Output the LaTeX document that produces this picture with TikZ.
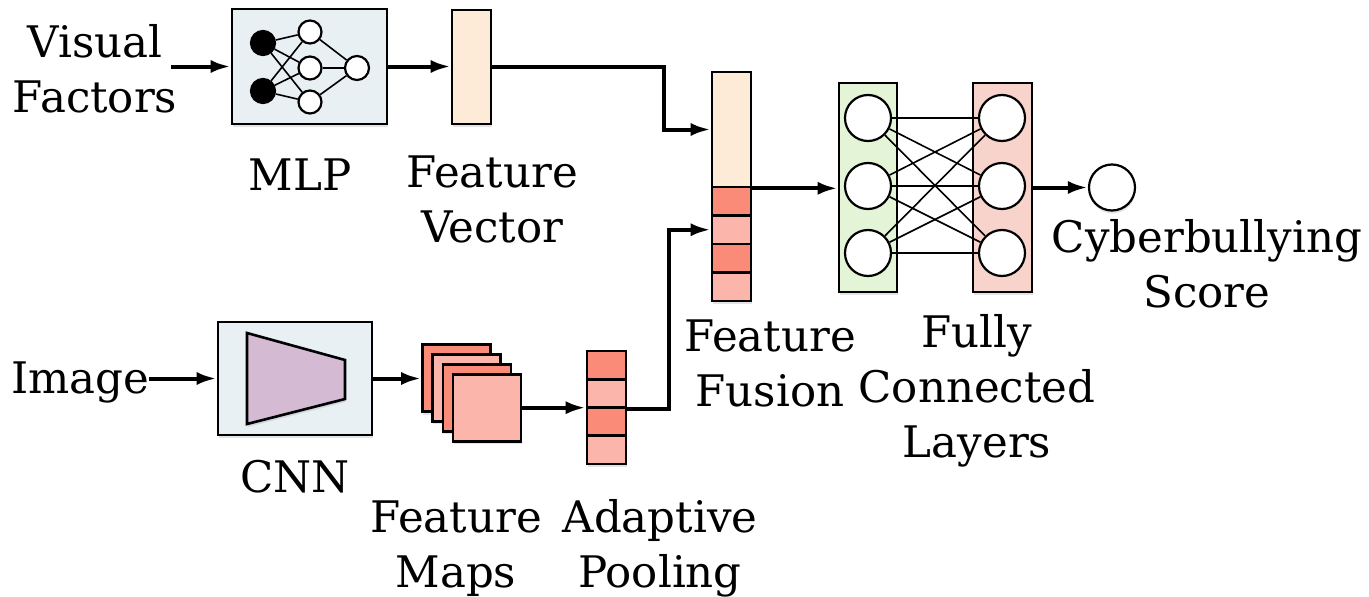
\documentclass[tikz,border=0pt]{standalone}
\usepackage{fontspec}
\setmainfont{DejaVu Serif}
\usetikzlibrary{arrows.meta, positioning, shadows}

\definecolor{panelBg}{HTML}{E8F0F4}
\definecolor{peach}{HTML}{FDEBD8}
\definecolor{salmonDark}{HTML}{FA8B78}
\definecolor{salmonLight}{HTML}{FBB5AA}
\definecolor{fcGreen}{HTML}{E3F4D7}
\definecolor{fcPink}{HTML}{F8D3CB}
\definecolor{cnnPurple}{HTML}{D4BAD2}

\begin{document}
\begin{tikzpicture}[x=1pt, y=-1pt,
    lbl/.style={font=\fontsize{43.5}{55}\selectfont, align=center, anchor=base, inner sep=0pt},
    softshadow/.style={drop shadow={opacity=0.22, shadow xshift=0.5pt, shadow yshift=-3pt}},
    panel/.style={rectangle, draw=black, line width=2.6pt, fill=panelBg, inner sep=0pt, softshadow},
    cell/.style={rectangle, draw=black, line width=2.6pt, inner sep=0pt, minimum width=39pt, minimum height=28.5pt, softshadow},
    neuron/.style={circle, draw=black, line width=2.2pt, fill=white, inner sep=0pt},
    arr/.style={line width=4pt, -{Latex[length=20pt, width=13pt]}},
    link/.style={line width=1.6pt}
]
\useasboundingbox (0,0) rectangle (1369,597);

% upper branch
\node[lbl] (visualLbl) at (95,112) {Visual\\Factors};
\node[panel, minimum width=155pt, minimum height=115pt] (mlp) at (309.5,66.5) {};
\foreach \y [count=\i] in {43,91}
    \node[neuron, fill=black, minimum size=24pt] (mlpIn\i) at (263,\y) {};
\foreach \y [count=\i] in {32,68,102}
    \node[neuron, minimum size=23pt] (mlpHid\i) at (310,\y) {};
\node[neuron, minimum size=24pt] (mlpOut) at (357,68) {};
\foreach \i in {1,2}
    \foreach \j in {1,2,3}
        \draw[link] (mlpIn\i) -- (mlpHid\j);
\foreach \j in {1,2,3}
    \draw[link] (mlpHid\j) -- (mlpOut);
\node[lbl] (mlpLbl) at (300,190) {MLP};

\node[panel, fill=peach, minimum width=39pt, minimum height=114pt] (featVec) at (471.5,67) {};
\node[lbl] (vecLbl) at (492,242) {Feature\\Vector};

% lower branch
\node[lbl] (imageLbl) at (80,393) {Image};
\node[panel, minimum width=154pt, minimum height=113pt] (cnn) at (295,378.5) {};
\draw[line width=2.6pt, fill=cnnPurple, softshadow] (247,333) -- (345,360) -- (345,399) -- (247,424) -- cycle;
\node[lbl] (cnnLbl) at (295,492) {CNN};

\foreach \c [count=\k] in {salmonDark,salmonLight,salmonDark,salmonLight}
    \node[cell, fill=\c, minimum width=68pt, minimum height=67pt] (fmap\k) at ({456.5+10.2*(\k-1)},{378+9.9*(\k-1)}) {};
\node[lbl] (mapsLbl) at (456,587) {Feature\\Maps};

\foreach \c [count=\k] in {salmonDark,salmonLight,salmonDark,salmonLight}
    \node[cell, fill=\c, minimum height=28.25pt] (pool\k) at (606.5,{351+28.25*\k-14.125}) {};
\node[lbl] (poolLbl) at (660,587) {Adaptive\\Pooling};

% fusion and classifier
\node[cell, fill=peach, minimum height=115pt] (fusionTop) at (731.5,129.5) {};
\foreach \c [count=\k] in {salmonDark,salmonLight,salmonDark,salmonLight}
    \node[cell, fill=\c] (fusion\k) at (731.5,{187+28.5*\k-14.25}) {};
\node[lbl] (fusionLbl) at (770,406) {Feature\\Fusion};

\node[panel, fill=fcGreen, minimum width=58pt, minimum height=209pt] (fcIn) at (868,187.5) {};
\node[panel, fill=fcPink, minimum width=59pt, minimum height=209pt] (fcOut) at (1002.5,187.5) {};
\foreach \y [count=\i] in {118,186,253} {
    \node[neuron, minimum size=46pt] (fcA\i) at (868,\y) {};
    \node[neuron, minimum size=46pt] (fcB\i) at (1002,\y) {};
}
\foreach \i in {1,2,3}
    \foreach \j in {1,2,3}
        \draw[link] (fcA\i) -- (fcB\j);
\node[lbl] (fcLbl) at (977,457) {Fully\\Connected\\Layers};

\node[neuron, minimum size=46pt, softshadow] (score) at (1112,187.5) {};
\node[lbl] (scoreLbl) at (1207,307) {Cyberbullying\\Score};

% connectors
\draw[arr] ([xshift=-6pt]visualLbl.east |- mlp.west) -- (mlp.west);
\draw[arr] (mlp.east) -- (mlp.east -| featVec.west);
\draw[arr] (featVec.east) -- ++(172,0) |- (fusionTop.west);
\draw[arr] (imageLbl.east |- cnn.west) -- (cnn.west);
\draw[arr] (cnn.east) -- (cnn.east -| fmap1.west);
\draw[arr] (fmap4.east) -- (fmap4.east -| pool2.west);
\draw[arr] (pool2.south east) -- ++(42,0) |- (fusion2.west);
\draw[arr] (fusionTop.south east) -- (fusionTop.south east -| fcIn.west);
\draw[arr] (fcOut.east) -- (score.west);
\end{tikzpicture}
\end{document}
